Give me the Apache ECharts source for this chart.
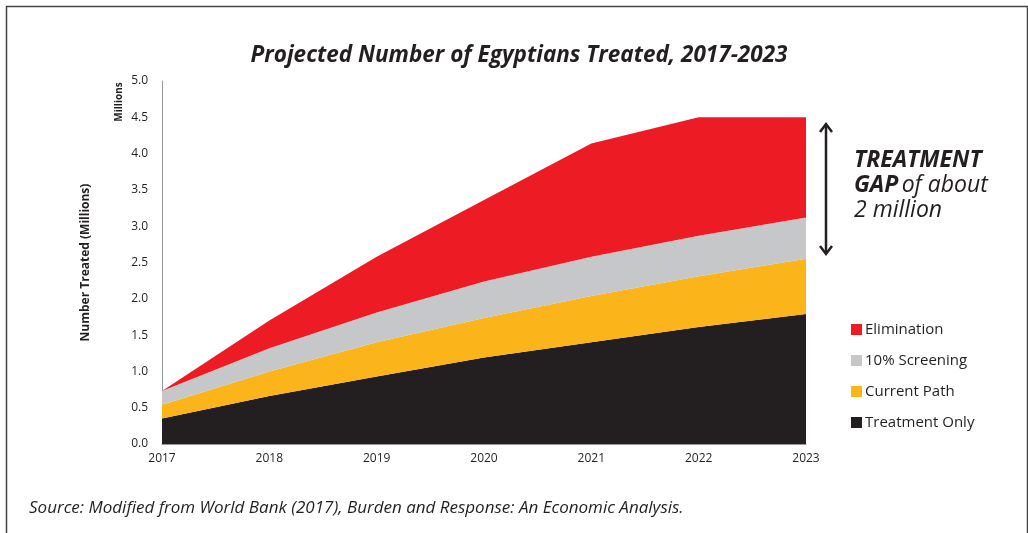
<!DOCTYPE html>
<html>
<head>
<meta charset="utf-8">
<script src="https://cdn.jsdelivr.net/npm/echarts@6/dist/echarts.min.js"></script>
<style>html,body{margin:0;padding:0;background:#fff}#c{width:1028px;height:533px}</style>
</head>
<body>
<div id="c"></div>
<script>
const years = ['2017','2018','2019','2020','2021','2022','2023'];
const treatmentOnly = [0.35, 0.66, 0.93, 1.19, 1.40, 1.61, 1.79];
const currentPath   = [0.19, 0.34, 0.47, 0.545, 0.64, 0.70, 0.76];
const screening10   = [0.19, 0.32, 0.41, 0.505, 0.54, 0.56, 0.57];
const elimination   = [0.00, 0.38, 0.77, 1.12, 1.56, 1.63, 1.38];

const FONT = '"Open Sans", "DejaVu Sans", sans-serif';
const chart = echarts.init(document.getElementById('c'), null, {renderer: 'canvas'});

function area(name, data, color) {
  return {
    name: name, type: 'line', stack: 'total', data: data,
    symbol: 'none', smooth: false,
    lineStyle: {width: 0, color: color},
    itemStyle: {color: color},
    areaStyle: {color: color, opacity: 1},
    emphasis: {disabled: true}
  };
}

chart.setOption({
  animation: false,
  backgroundColor: '#fff',
  title: {
    text: 'Projected Number of Egyptians Treated, 2017-2023',
    left: 514, top: 39, textAlign: 'center',
    textStyle: {fontFamily: FONT, fontSize: 22.5, fontWeight: 'bold', fontStyle: 'italic', color: '#231F20'}
  },
  grid: {left: 162, right: 222, top: 81, bottom: 89, containLabel: false},
  legend: {
    orient: 'vertical', left: 846, top: 317,
    itemWidth: 11, itemHeight: 11, itemGap: 16,
    icon: 'rect',
    data: ['Elimination', '10% Screening', 'Current Path', 'Treatment Only'],
    textStyle: {fontFamily: FONT, fontSize: 15, color: '#231F20', padding: [0,0,0,-2]}
  },
  xAxis: {
    type: 'category', data: years, boundaryGap: false,
    axisLine: {show: true, lineStyle: {color: '#999', width: 1}},
    axisTick: {show: false},
    axisLabel: {fontFamily: FONT, fontSize: 12, color: '#231F20', margin: 9},
    splitLine: {show: false}
  },
  yAxis: {
    type: 'value', min: 0, max: 5, interval: 0.5,
    name: 'Number Treated (Millions)', nameLocation: 'middle', nameRotate: 90, nameGap: 70,
    nameTextStyle: {fontFamily: FONT, fontSize: 12, fontWeight: 'bold', color: '#231F20'},
    axisLine: {show: true, lineStyle: {color: '#999', width: 1}},
    axisTick: {show: false},
    axisLabel: {fontFamily: FONT, fontSize: 12, color: '#231F20', margin: 14,
      formatter: v => v.toFixed(1)},
    splitLine: {show: false}
  },
  series: [
    area('Treatment Only', treatmentOnly, '#231F20'),
    area('Current Path', currentPath, '#FBB419'),
    area('10% Screening', screening10, '#C6C7C8'),
    area('Elimination', elimination, '#ED1C24')
  ],
  graphic: [
    {type: 'rect', left: 4, top: 4, shape: {width: 1021, height: 560},
      style: {fill: 'none', stroke: '#444', lineWidth: 1.5}, silent: true},
    {type: 'text', x: 119, y: 102, rotation: Math.PI/2, style: {
      text: 'Millions', fontFamily: FONT, fontSize: 10, fontWeight: 'bold', fill: '#231F20',
      align: 'center', verticalAlign: 'middle'}},
    {type: 'polyline', shape: {points: [[826,124],[826,254]]}, style: {stroke: '#231F20', lineWidth: 2.5, fill: 'none'}},
    {type: 'polyline', shape: {points: [[820,132],[826,124],[832,132]]}, style: {stroke: '#231F20', lineWidth: 2.5, fill: 'none'}},
    {type: 'polyline', shape: {points: [[820,246],[826,254],[832,246]]}, style: {stroke: '#231F20', lineWidth: 2.5, fill: 'none'}},
    {type: 'text', left: 854, top: 149, style: {
      text: '{b|TREATMENT}\n{b|GAP} {i|of about}\n{i|2 million}',
      rich: {
        b: {fontFamily: FONT, fontSize: 23, fontWeight: 'bold', fontStyle: 'italic', fill: '#231F20', lineHeight: 25},
        i: {fontFamily: FONT, fontSize: 23, fontStyle: 'italic', fill: '#231F20', lineHeight: 25}
      }}},
    {type: 'text', left: 29, top: 500, style: {
      text: 'Source: Modified from World Bank (2017), Burden and Response: An Economic Analysis.',
      fontFamily: FONT, fontSize: 17, fontStyle: 'italic', fill: '#231F20'}}
  ]
});
</script>
</body>
</html>
